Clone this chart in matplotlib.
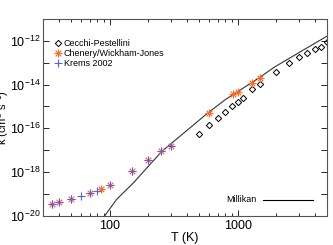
import numpy as np
import matplotlib
matplotlib.use("Agg")
import matplotlib.pyplot as plt
from matplotlib.ticker import FixedLocator, NullFormatter

plt.rcParams['font.family'] = ['Liberation Sans', 'DejaVu Sans']
plt.rcParams['mathtext.fontset'] = 'custom'
plt.rcParams['mathtext.rm'] = 'Liberation Sans'

# Cecchi-Pestellini (open diamonds)
cp_T = [500, 600, 700, 800, 900, 1000, 1100, 1300, 1500, 2000, 2500, 3000, 3500, 4000, 4500, 5000]
cp_k = [10**-16.25, 10**-15.85, 10**-15.54, 10**-15.24, 10**-15.00, 10**-14.78, 10**-14.60, 10**-14.22,
        10**-13.99, 10**-13.41, 10**-13.01, 10**-12.75, 10**-12.54, 10**-12.39, 10**-12.26, 10**-12.07]

# Chenery/Wickham-Jones (orange asterisks)
cw_T = [35, 40, 50, 70, 85, 100, 150, 200, 250, 300, 600, 925, 1000, 1300, 1500]
cw_k = [10**-19.46, 10**-19.37, 10**-19.26, 10**-18.98, 10**-18.78, 10**-18.59, 10**-17.97, 10**-17.45,
        10**-17.06, 10**-16.79, 10**-15.31, 10**-14.44, 10**-14.32, 10**-13.91, 10**-13.68]

# Krems 2002 (blue plus)
kr_T = [35, 40, 50, 60, 70, 80, 100, 150, 200, 250, 300]
kr_k = [10**-19.46, 10**-19.37, 10**-19.26, 10**-19.11, 10**-18.98, 10**-18.87, 10**-18.59, 10**-17.97,
        10**-17.45, 10**-17.06, 10**-16.79]

# Millikan curve
mk_T = [92, 113, 153, 255, 573, 796, 1479, 1960, 5000]
mk_k = [10**-19.98, 10**-19.26, 10**-18.50, 10**-17.06, 10**-15.34, 10**-14.70, 10**-13.68, 10**-13.18, 10**-11.78]

orange = '#ff6a1e'
blue = '#5a5aff'

fig = plt.figure(figsize=(3.33, 2.45), dpi=100)
ax = fig.add_axes([0.129, 0.12, 0.853, 0.802])

ax.plot(mk_T, mk_k, color='#333333', lw=0.8)
ax.plot(cp_T, cp_k, ls='none', marker='D', ms=3.2, mfc='none', mec='black', mew=0.7,
        label='Cecchi-Pestellini')
ax.plot(cw_T, cw_k, ls='none', marker=(8, 2, 0), ms=5.5, color=orange, mew=0.6,
        label='Chenery/Wickham-Jones')
ax.plot(kr_T, kr_k, ls='none', marker='+', ms=5.5, color=blue, mew=0.8, label='Krems 2002')

ax.set_xscale('log')
ax.set_yscale('log')
ax.set_xlim(30, 5000)
ax.set_ylim(1e-20, 1e-11)

ax.xaxis.set_major_locator(FixedLocator([100, 1000]))
ax.set_xticklabels(['100', '1000'])
minor_x = [m * d for d in (10, 100, 1000) for m in range(2, 10)]
ax.xaxis.set_minor_locator(FixedLocator([v for v in minor_x if 30 <= v <= 5000]))
ax.xaxis.set_minor_formatter(NullFormatter())

ydec = list(range(-20, -10))
ax.yaxis.set_major_locator(FixedLocator([10.0**e for e in ydec]))
ax.set_yticklabels([r'$10^{%d}$' % e if e % 2 == 0 else '' for e in ydec])
ax.yaxis.set_minor_locator(FixedLocator([]))

ax.tick_params(which='both', direction='in', top=True, right=True, labelsize=9)
ax.tick_params(axis='y', pad=2)
ax.tick_params(axis='x', pad=3)
ax.tick_params(which='major', length=4, width=0.6)
ax.tick_params(which='minor', length=2.5, width=0.6)
for s in ax.spines.values():
    s.set_linewidth(0.8)
    s.set_color('#555555')

ax.set_xlabel('T (K)', fontsize=9, labelpad=0)
ax.set_ylabel(r'k (cm$^3$ s$^{-1}$)', fontsize=8)
ax.yaxis.set_label_coords(-0.113, 0.5)

ax.legend(loc='upper left', frameon=False, fontsize=6.5, handlelength=0.6, handletextpad=0.4,
          borderaxespad=0.3, labelspacing=0.1, bbox_to_anchor=(0.02, 0.93))

ax.text(0.70, 0.08, 'Millikan', transform=ax.transAxes, fontsize=6.5, va='center', ha='center')
ax.plot([0.775, 0.951], [0.08, 0.08], transform=ax.transAxes, color='black', lw=0.8)

fig.savefig('out.png', dpi=100)
